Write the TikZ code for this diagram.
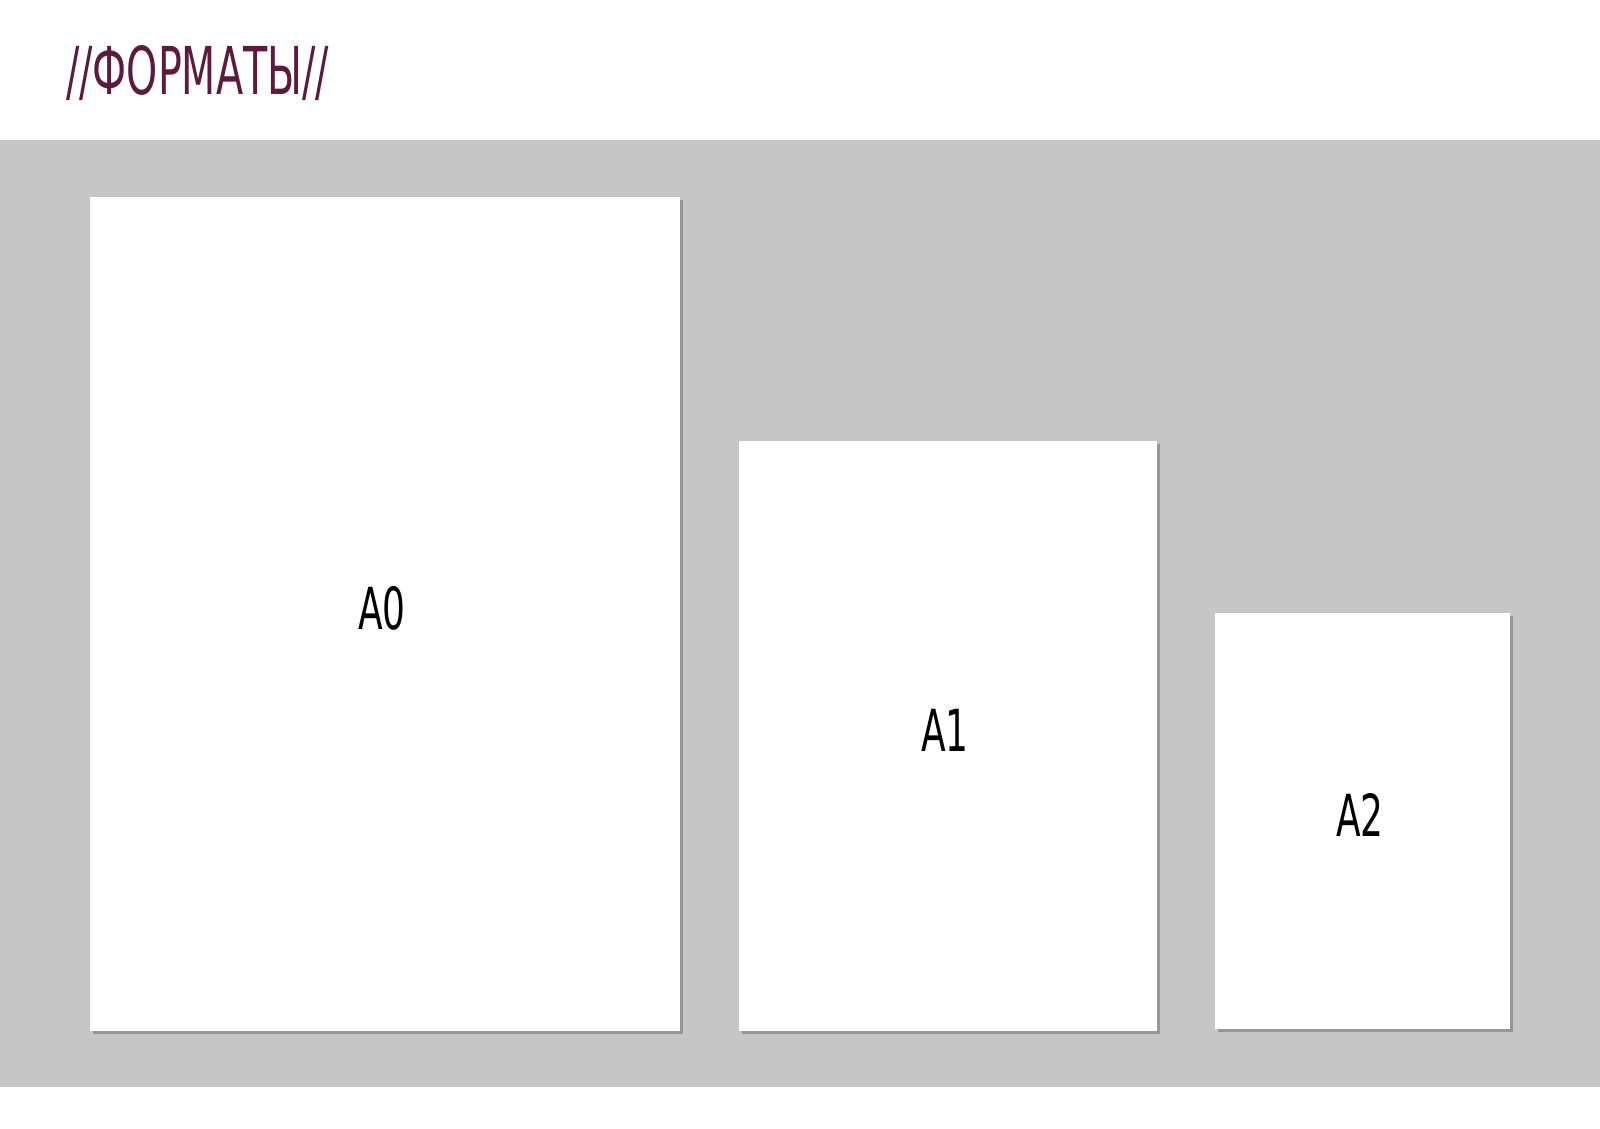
\documentclass[tikz,border=0pt]{standalone}
\usepackage{fontspec}
\setmainfont{DejaVu Sans}
\usetikzlibrary{shadows}
\definecolor{band}{HTML}{C6C6C6}
\definecolor{wine}{HTML}{5E1A3D}
\begin{document}
\begin{tikzpicture}[x=1pt,y=-1pt,
  sheet/.style={draw=none,fill=white,inner sep=0pt,
    drop shadow={shadow xshift=3pt,shadow yshift=-3pt,fill=black!45,opacity=0.8}},
  lab/.style={font=\fontsize{58}{60}\selectfont,xscale=0.62,text=black}]
\useasboundingbox (0,0) rectangle (1600,1129);
\fill[white] (0,0) rectangle (1600,1129);
\fill[band] (0,140) rectangle (1600,1087);
\node[font=\fontsize{66}{68}\selectfont,text=wine,xscale=0.6,anchor=west] (title) at (64,73) {//ФОРМАТЫ//};
\node[sheet,minimum width=590pt,minimum height=834pt] (a0) at (385,614) {};
\node[sheet,minimum width=418pt,minimum height=590pt] (a1) at (948,736) {};
\node[sheet,minimum width=295pt,minimum height=416pt] (a2) at (1362.5,821) {};
\node[lab] (t0) at (382,608) {A0};
\node[lab] (t1) at (945,730) {A1};
\node[lab] (t2) at (1360,815) {A2};
\end{tikzpicture}
\end{document}
